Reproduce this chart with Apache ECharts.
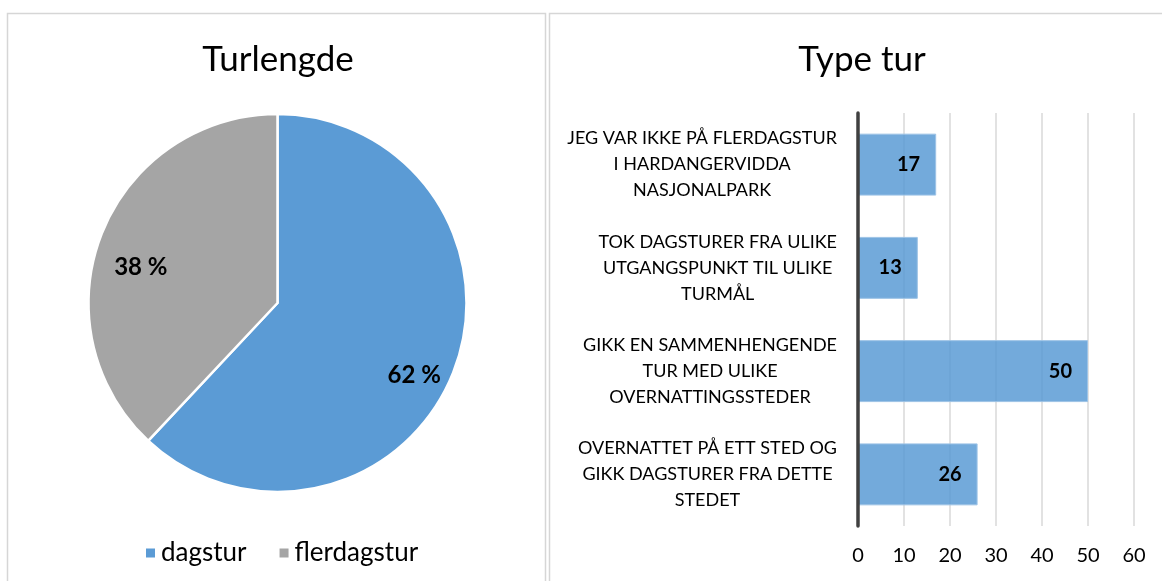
<!DOCTYPE html>
<html>
<head>
<meta charset="utf-8">
<script src="https://cdn.jsdelivr.net/npm/echarts@6/dist/echarts.min.js"></script>
<style>
html,body{margin:0;padding:0;background:#fff;}
#c{width:1162px;height:581px;}
</style>
</head>
<body>
<div id="c"></div>
<script>
// ---- data ----
const pieNames = ['dagstur', 'flerdagstur'];
const pieValues = [62, 38];
const barCategories = [
  'JEG VAR IKKE PÅ FLERDAGSTUR\nI HARDANGERVIDDA\nNASJONALPARK',
  'TOK DAGSTURER FRA ULIKE\nUTGANGSPUNKT TIL ULIKE\nTURMÅL',
  'GIKK EN SAMMENHENGENDE\nTUR MED ULIKE\nOVERNATTINGSSTEDER',
  'OVERNATTET PÅ ETT STED OG\nGIKK DAGSTURER FRA DETTE\nSTEDET'
];
const barValues = [17, 13, 50, 26];
const xTicks = [0, 10, 20, 30, 40, 50, 60];

const FONT = 'Lato';
const pieColors = ['#5B9BD5', '#A5A5A5'];

const chart = echarts.init(document.getElementById('c'), null, {renderer: 'canvas'});
const pieData = pieNames.map((n, i) => ({name: n, value: pieValues[i], itemStyle: {color: pieColors[i]}}));

chart.setOption({
  animation: false,
  textStyle: {fontFamily: FONT},
  graphic: [
    {type: 'rect', z: -10, shape: {x: 7.5, y: 13.5, width: 538, height: 620}, style: {fill: 'none', stroke: '#d6d6d6', lineWidth: 1.5}},
    {type: 'rect', z: -10, shape: {x: 549.5, y: 13.5, width: 700, height: 620}, style: {fill: 'none', stroke: '#d6d6d6', lineWidth: 1.5}}
  ],
  title: [
    {text: 'Turlengde', left: 278, top: 42, padding: 0, textAlign: 'center',
     textStyle: {fontFamily: FONT, fontSize: 35, fontWeight: 'normal', color: '#000'}},
    {text: 'Type tur', left: 862, top: 42, padding: 0, textAlign: 'center',
     textStyle: {fontFamily: FONT, fontSize: 35, fontWeight: 'normal', color: '#000'}}
  ],
  legend: {
    left: 144, top: 540, padding: 0,
    icon: 'rect', itemWidth: 11, itemHeight: 11, itemGap: 31,
    data: pieNames.map((n, i) => ({name: n, itemStyle: {color: pieColors[i]}})),
    textStyle: {fontFamily: FONT, fontSize: 26, color: '#000', padding: [0, 0, 0, 0]},
    selectedMode: false
  },
  grid: {left: 858, right: 28, top: 113, bottom: 55, containLabel: false},
  xAxis: {
    type: 'value', min: 0, max: 60, interval: 10,
    axisLine: {show: false}, axisTick: {show: false},
    splitLine: {show: true, lineStyle: {color: '#d9d9d9', width: 1.5}},
    axisLabel: {margin: 20, fontFamily: FONT, fontSize: 20, color: '#000',
      formatter: v => xTicks.indexOf(v) >= 0 ? String(v) : ''}
  },
  yAxis: {
    type: 'category', inverse: true, data: barCategories, z: 5,
    axisLine: {show: true, lineStyle: {color: '#404040', width: 3.5}},
    axisTick: {show: false},
    axisLabel: {
      margin: 21, align: 'right', color: '#000',
      formatter: v => v.split('\n').map(l => '{c|' + l + '}').join('\n'),
      rich: {c: {align: 'center', fontFamily: FONT, fontSize: 18, lineHeight: 26, color: '#000'}}
    }
  },
  series: [
    {
      type: 'pie', name: 'Turlengde', center: [277.5, 303], radius: 189,
      startAngle: 90, clockwise: true, silent: true,
      itemStyle: {borderColor: '#fff', borderWidth: 2.5},
      label: {show: false}, labelLine: {show: false},
      data: pieData
    },
    {
      type: 'pie', name: 'labels', center: [277.5, 321], radius: [0, 288],
      startAngle: 90, clockwise: true, silent: true, legendHoverLink: false,
      itemStyle: {color: 'rgba(0,0,0,0)', borderWidth: 0},
      label: {show: true, position: 'inside', formatter: '{c} %', fontFamily: FONT, fontSize: 24, fontWeight: 'bold', color: '#000'},
      labelLine: {show: false},
      data: pieNames.map((n, i) => ({name: n, value: pieValues[i], itemStyle: {color: 'rgba(0,0,0,0)'}}))
    },
    {
      type: 'bar', name: 'Type tur', data: barValues, barCategoryGap: '40%', silent: true,
      itemStyle: {color: 'rgba(91,155,213,0.85)', borderColor: 'rgba(157,195,230,1)', borderWidth: 1},
      label: {show: true, position: 'insideRight', distance: 16, fontFamily: FONT, fontSize: 20, fontWeight: 'bold', color: '#000'}
    }
  ]
});
</script>
</body>
</html>
